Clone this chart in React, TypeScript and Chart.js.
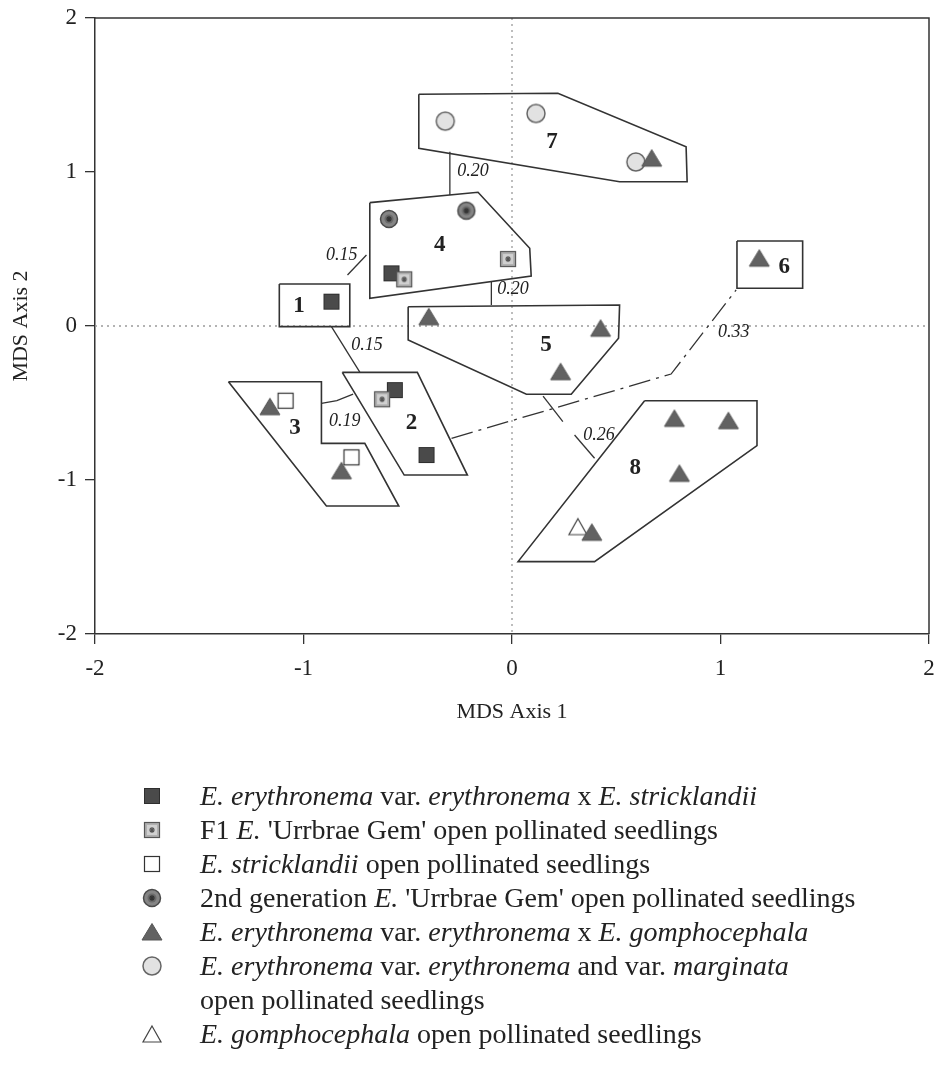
import React, { useEffect, useRef } from "react";
import { Chart, registerables } from "chart.js";
Chart.register(...registerables);

// ---------- data ----------
const X_TICKS = [-2, -1, 0, 1, 2];
const Y_TICKS = [-2, -1, 0, 1, 2];
const X_TITLE = "MDS Axis 1";
const Y_TITLE = "MDS Axis 2";

const hybridStrick = [
  { x: -0.866, y: 0.158 }, { x: -0.578, y: 0.342 }, { x: -0.562, y: -0.416 }, { x: -0.41, y: -0.838 },
];
const f1Gem = [
  { x: -0.517, y: 0.303 }, { x: -0.019, y: 0.435 }, { x: -0.623, y: -0.476 },
];
const stricklandii = [
  { x: -1.086, y: -0.485 }, { x: -0.77, y: -0.853 },
];
const gen2Gem = [
  { x: -0.59, y: 0.695 }, { x: -0.219, y: 0.749 },
];
const hybridGomph = [
  { x: 0.67, y: 1.09 }, { x: -0.399, y: 0.06 }, { x: 0.425, y: -0.015 }, { x: 0.233, y: -0.297 },
  { x: 1.186, y: 0.44 }, { x: -1.161, y: -0.524 }, { x: -0.818, y: -0.94 }, { x: 0.779, y: -0.6 },
  { x: 1.038, y: -0.615 }, { x: 0.803, y: -0.957 }, { x: 0.383, y: -1.34 },
];
const erythronemaOP = [
  { x: -0.32, y: 1.33 }, { x: 0.115, y: 1.38 }, { x: 0.594, y: 1.065 },
];
const gomphocephalaOP = [{ x: 0.316, y: -1.303 }];

// group outlines (data coordinates)
const group1 = [[-1.116, 0.273], [-0.778, 0.273], [-0.778, -0.004], [-1.116, -0.004]];
const group2 = [[-0.814, -0.301], [-0.454, -0.301], [-0.214, -0.968], [-0.517, -0.968]];
const group3 = [[-1.36, -0.362], [-0.914, -0.362], [-0.914, -0.762], [-0.706, -0.762], [-0.543, -1.169], [-0.89, -1.169]];
const group4 = [[-0.682, 0.801], [-0.163, 0.868], [0.085, 0.505], [0.092, 0.325], [-0.682, 0.18]];
const group5 = [[-0.498, 0.125], [0.516, 0.136], [0.511, -0.08], [0.284, -0.443], [0.069, -0.443], [-0.498, -0.091]];
const group6 = [[1.079, 0.552], [1.394, 0.552], [1.394, 0.245], [1.079, 0.245]];
const group7 = [[-0.447, 1.505], [0.22, 1.511], [0.835, 1.164], [0.84, 0.937], [0.516, 0.937], [-0.447, 1.154]];
const group8 = [[0.636, -0.485], [1.175, -0.485], [1.175, -0.777], [0.396, -1.53], [0.029, -1.53]];
const GROUPS = [group1, group2, group3, group4, group5, group6, group7, group8];

// links between groups
const link7to4 = [[-0.298, 1.132], [-0.298, 0.851]];
const link4to1 = [[-0.698, 0.461], [-0.789, 0.331]];
const link4to5 = [[-0.099, 0.288], [-0.099, 0.136]];
const link1to2 = [[-0.866, -0.004], [-0.73, -0.299]];
const link3to2 = [[-0.914, -0.502], [-0.84, -0.484], [-0.762, -0.442]];
const link5to8a = [[0.149, -0.455], [0.244, -0.621]];
const link5to8b = [[0.3, -0.708], [0.396, -0.859]];
const link2to6 = [[-0.29, -0.729], [0.763, -0.312], [1.075, 0.234]];
const SOLID_LINKS = [link7to4, link4to1, link4to5, link1to2, link3to2, link5to8a, link5to8b];

const GROUP_LABELS = ["1", "2", "3", "4", "5", "6", "7", "8"];
const GROUP_LABEL_POS = [
  [-1.022, 0.13], [-0.482, -0.632], [-1.041, -0.665], [-0.346, 0.526],
  [0.163, -0.123], [1.306, 0.385], [0.192, 1.197], [0.591, -0.924],
];
const DIST_LABELS = ["0.20", "0.15", "0.20", "0.15", "0.19", "0.33", "0.26"];
const DIST_LABEL_POS = [
  [-0.187, 1.006], [-0.817, 0.461], [0.005, 0.24], [-0.695, -0.123],
  [-0.802, -0.621], [1.063, -0.039], [0.417, -0.708],
];

// legend: [text, italic] segments per line
const LEGEND_MARKERS = ["darkSquare", "f1Square", "openSquare", "gen2Circle", "triangle", "openCircle", "openTriangle"];
const LEGEND_LINES = [
  [[["E. erythronema", true], [" var. ", false], ["erythronema", true], [" x ", false], ["E. stricklandii", true]]],
  [[["F1 ", false], ["E.", true], [" 'Urrbrae Gem' open pollinated seedlings", false]]],
  [[["E. stricklandii", true], [" open pollinated seedlings", false]]],
  [[["2nd generation ", false], ["E.", true], [" 'Urrbrae Gem' open pollinated seedlings", false]]],
  [[["E. erythronema", true], [" var. ", false], ["erythronema", true], [" x ", false], ["E. gomphocephala", true]]],
  [
    [["E. erythronema", true], [" var. ", false], ["erythronema", true], [" and var. ", false], ["marginata", true]],
    [["open pollinated seedlings", false]],
  ],
  [[["E. gomphocephala", true], [" open pollinated seedlings", false]]],
];

// ---------- helpers ----------
const SERIF = '"Liberation Serif", "Times New Roman", serif';
const TXT = "#222";

function toPts(arr: number[][]) {
  return arr.map((p) => ({ x: p[0], y: p[1] }));
}
function closed(arr: number[][]) {
  return toPts([...arr, arr[0]]);
}

function makeMarker(kind: string): HTMLCanvasElement {
  const s = 24;
  const c = document.createElement("canvas");
  c.width = s;
  c.height = s;
  const g = c.getContext("2d")!;
  const m = s / 2;
  const star = (col: string) => {
    g.strokeStyle = col;
    g.lineWidth = 1.2;
    g.beginPath();
    g.moveTo(m - 3, m); g.lineTo(m + 3, m);
    g.moveTo(m, m - 3); g.lineTo(m, m + 3);
    g.moveTo(m - 2, m - 2); g.lineTo(m + 2, m + 2);
    g.moveTo(m + 2, m - 2); g.lineTo(m - 2, m + 2);
    g.stroke();
  };
  if (kind === "darkSquare") {
    g.fillStyle = "#4a4a4a";
    g.fillRect(m - 8, m - 8, 16, 16);
    g.strokeStyle = "#2e2e2e"; g.lineWidth = 1;
    g.strokeRect(m - 7.5, m - 7.5, 15, 15);
  } else if (kind === "f1Square") {
    g.fillStyle = "#b0b0b0";
    g.fillRect(m - 7.5, m - 7.5, 15, 15);
    g.fillStyle = "#d0d0d0";
    g.fillRect(m - 5, m - 5, 10, 10);
    g.strokeStyle = "#555"; g.lineWidth = 1.2;
    g.strokeRect(m - 7.5, m - 7.5, 15, 15);
    star("#555");
  } else if (kind === "openSquare") {
    g.fillStyle = "#fff";
    g.fillRect(m - 7.5, m - 7.5, 15, 15);
    g.strokeStyle = "#333"; g.lineWidth = 1.2;
    g.strokeRect(m - 7.5, m - 7.5, 15, 15);
  } else if (kind === "gen2Circle") {
    g.fillStyle = "#858585";
    g.beginPath(); g.arc(m, m, 8.5, 0, Math.PI * 2); g.fill();
    g.strokeStyle = "#4a4a4a"; g.lineWidth = 1.5; g.stroke();
    g.fillStyle = "#6a6a6a";
    g.beginPath(); g.arc(m, m, 4.5, 0, Math.PI * 2); g.fill();
    star("#333");
  } else if (kind === "triangle") {
    g.fillStyle = "#626262";
    g.beginPath(); g.moveTo(m, m - 8.5); g.lineTo(m + 10, m + 8); g.lineTo(m - 10, m + 8); g.closePath();
    g.fill();
    g.strokeStyle = "#555"; g.lineWidth = 1; g.stroke();
  } else if (kind === "openCircle") {
    g.fillStyle = "#e2e2e2";
    g.beginPath(); g.arc(m, m, 9, 0, Math.PI * 2); g.fill();
    g.strokeStyle = "#666"; g.lineWidth = 1.5; g.stroke();
  } else if (kind === "openTriangle") {
    g.fillStyle = "#fff";
    g.beginPath(); g.moveTo(m, m - 8); g.lineTo(m + 9, m + 8); g.lineTo(m - 9, m + 8); g.closePath();
    g.fill();
    g.strokeStyle = "#444"; g.lineWidth = 1.2; g.stroke();
  }
  return c;
}

export default function App() {
  const ref = useRef<HTMLCanvasElement | null>(null);

  useEffect(() => {
    const canvas = ref.current;
    if (!canvas) return;
    const mk: Record<string, HTMLCanvasElement> = {};
    LEGEND_MARKERS.forEach((k) => (mk[k] = makeMarker(k)));

    const markerSet = (data: any[], kind: string, order: number) => ({
      type: "scatter" as const,
      data,
      pointStyle: mk[kind],
      pointRadius: 10,
      showLine: false,
      order,
    });
    const lineSet = (data: any[], order: number, dash: number[] = [], width = 1.6) => ({
      type: "scatter" as const,
      data,
      showLine: true,
      pointRadius: 0,
      borderColor: "#333",
      borderWidth: width,
      borderDash: dash,
      fill: false,
      tension: 0,
      order,
    });

    const datasets: any[] = [
      markerSet(f1Gem, "f1Square", 0),
      markerSet(stricklandii, "openSquare", 1),
      markerSet(hybridGomph, "triangle", 2),
      markerSet(gomphocephalaOP, "openTriangle", 3),
      markerSet(hybridStrick, "darkSquare", 4),
      markerSet(erythronemaOP, "openCircle", 5),
      markerSet(gen2Gem, "gen2Circle", 6),
      ...GROUPS.map((g) => lineSet(closed(g), 10)),
      ...SOLID_LINKS.map((l) => lineSet(toPts(l), 11, [], 1.3)),
      lineSet(toPts(link2to6), 11, [22, 6, 3, 6], 1.3),
    ];

    const overlay = {
      id: "overlay",
      beforeDatasetsDraw(chart: any) {
        const { ctx, chartArea: a, scales } = chart;
        const x0 = scales.x.getPixelForValue(0);
        const y0 = scales.y.getPixelForValue(0);
        ctx.save();
        ctx.strokeStyle = "#9a9a9a";
        ctx.lineWidth = 1.3;
        ctx.setLineDash([2, 4]);
        ctx.beginPath();
        ctx.moveTo(x0, a.top); ctx.lineTo(x0, a.bottom);
        ctx.moveTo(a.left, y0); ctx.lineTo(a.right, y0);
        ctx.stroke();
        ctx.setLineDash([]);
        ctx.strokeStyle = "#333";
        ctx.lineWidth = 1.5;
        ctx.beginPath();
        ctx.moveTo(a.left, a.top); ctx.lineTo(a.right, a.top); ctx.lineTo(a.right, a.bottom);
        ctx.stroke();
        ctx.restore();
      },
      afterDatasetsDraw(chart: any) {
        const { ctx, scales } = chart;
        ctx.save();
        ctx.fillStyle = TXT;
        ctx.textAlign = "center";
        ctx.textBaseline = "middle";
        ctx.font = `bold 23px ${SERIF}`;
        GROUP_LABELS.forEach((t, i) => {
          const [x, y] = GROUP_LABEL_POS[i];
          ctx.fillText(t, scales.x.getPixelForValue(x), scales.y.getPixelForValue(y));
        });
        ctx.font = `italic 18px ${SERIF}`;
        DIST_LABELS.forEach((t, i) => {
          const [x, y] = DIST_LABEL_POS[i];
          ctx.fillText(t, scales.x.getPixelForValue(x), scales.y.getPixelForValue(y));
        });
        ctx.restore();
      },
      afterDraw(chart: any) {
        const { ctx } = chart;
        ctx.save();
        ctx.fillStyle = TXT;
        ctx.textBaseline = "alphabetic";
        ctx.textAlign = "left";
        const textX = 200;
        const markX = 152;
        let base = 805;
        const pitch = 34;
        LEGEND_LINES.forEach((item, i) => {
          const img = mk[LEGEND_MARKERS[i]];
          ctx.drawImage(img, markX - img.width / 2, base - 9 - img.height / 2);
          item.forEach((line) => {
            let x = textX;
            line.forEach(([t, it]) => {
              ctx.font = `${it ? "italic " : ""}28px ${SERIF}`;
              ctx.fillText(t as string, x, base);
              x += ctx.measureText(t as string).width;
            });
            base += pitch;
          });
        });
        ctx.restore();
      },
    };

    const tickFont = { family: SERIF, size: 23 };
    const chart = new Chart(canvas, {
      type: "scatter",
      data: { datasets },
      plugins: [overlay],
      options: {
        animation: false,
        responsive: false,
        devicePixelRatio: 1,
        layout: { padding: { left: 0, top: 18, right: 6, bottom: 333 } },
        plugins: { legend: { display: false }, tooltip: { enabled: false } },
        scales: {
          x: {
            type: "linear",
            min: -2,
            max: 2,
            afterFit: (s: any) => { s.height = 100; s.paddingLeft = 0; s.paddingRight = 0; },
            afterBuildTicks: (s: any) => { s.ticks = X_TICKS.map((v) => ({ value: v })); },
            ticks: { font: tickFont, color: TXT, padding: 11, autoSkip: false, maxRotation: 0 },
            grid: { drawOnChartArea: false, drawTicks: true, tickLength: 10, color: "#333", lineWidth: 1.3 },
            border: { display: true, color: "#333", width: 1.5 },
            title: { display: true, text: X_TITLE, font: { family: SERIF, size: 22 }, color: TXT, padding: { top: 0, bottom: 9 } },
          },
          y: {
            type: "linear",
            min: -2,
            max: 2,
            afterFit: (s: any) => { s.width = 95; s.paddingTop = 0; s.paddingBottom = 0; },
            afterBuildTicks: (s: any) => { s.ticks = Y_TICKS.map((v) => ({ value: v })); },
            ticks: { font: tickFont, color: TXT, padding: 8, autoSkip: false },
            grid: { drawOnChartArea: false, drawTicks: true, tickLength: 10, color: "#333", lineWidth: 1.3 },
            border: { display: true, color: "#333", width: 1.5 },
            title: { display: true, text: Y_TITLE, font: { family: SERIF, size: 22 }, color: TXT, padding: { top: 8, bottom: 0 } },
          },
        },
      } as any,
    });
    return () => chart.destroy();
  }, []);

  return (
    <div style={{ position: "absolute", left: 0, top: 0, width: 940, height: 1067, background: "#fff" }}>
      <canvas ref={ref} width={940} height={1067} style={{ display: "block", width: 940, height: 1067 }} />
    </div>
  );
}
